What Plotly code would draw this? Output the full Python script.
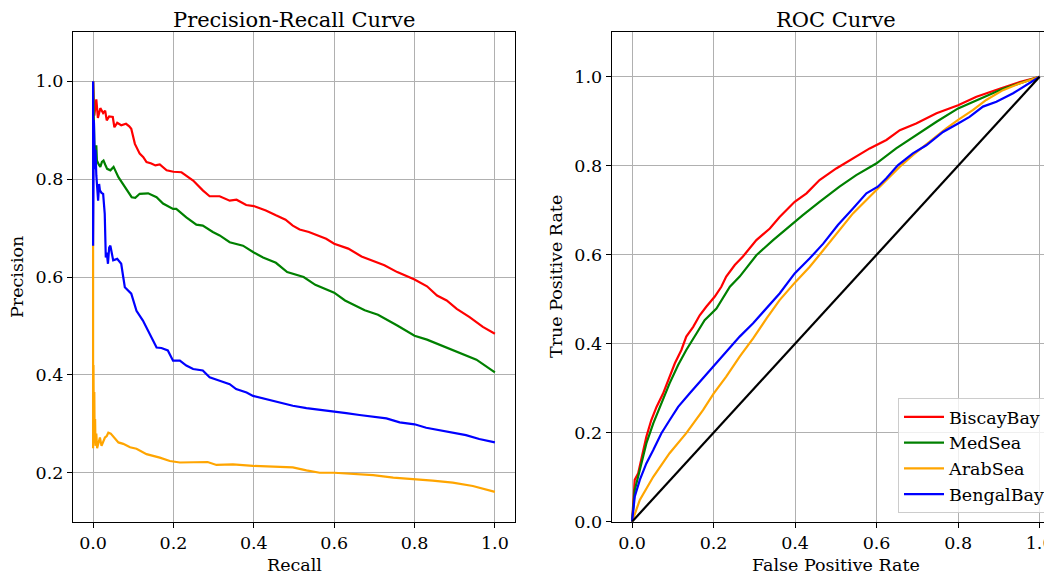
import plotly.graph_objects as go

# ---------------- data ----------------
series_names = ["BiscayBay", "MedSea", "ArabSea", "BengalBay"]
series_colors = ["#ff0000", "#008000", "#ffa500", "#0000ff"]

# Precision-Recall curves
pr_biscay_recall = [0, 0.003, 0.008, 0.012, 0.018, 0.025, 0.03, 0.034, 0.04, 0.049, 0.053, 0.06, 0.07, 0.082, 0.09, 0.095,
                    0.104, 0.116, 0.125, 0.133, 0.145, 0.155, 0.166, 0.183, 0.2, 0.22, 0.235, 0.249, 0.273, 0.29, 0.315,
                    0.34, 0.357, 0.381, 0.4, 0.43, 0.455, 0.479, 0.497, 0.514, 0.537, 0.56, 0.58, 0.6, 0.635, 0.668,
                    0.7, 0.725, 0.757, 0.8, 0.831, 0.856, 0.88, 0.905, 0.937, 0.97, 1.0]
pr_biscay_precision = [1.0, 0.93, 0.963, 0.925, 0.945, 0.935, 0.94, 0.92, 0.928, 0.927, 0.906, 0.915, 0.91, 0.913, 0.908,
                       0.903, 0.872, 0.852, 0.845, 0.835, 0.832, 0.828, 0.83, 0.818, 0.815, 0.814, 0.805, 0.797, 0.777,
                       0.765, 0.765, 0.756, 0.758, 0.747, 0.745, 0.736, 0.726, 0.717, 0.705, 0.697, 0.692, 0.685, 0.678,
                       0.668, 0.658, 0.642, 0.632, 0.624, 0.61, 0.595, 0.581, 0.562, 0.552, 0.535, 0.518, 0.498, 0.484]

pr_med_recall = [0, 0.004, 0.008, 0.0095, 0.014, 0.018, 0.022, 0.026, 0.03, 0.035, 0.043, 0.051, 0.063, 0.079, 0.096,
                 0.105, 0.116, 0.137, 0.158, 0.174, 0.199, 0.207, 0.232, 0.257, 0.273, 0.298, 0.315, 0.34, 0.373, 0.4,
                 0.423, 0.455, 0.483, 0.524, 0.553, 0.6, 0.627, 0.676, 0.709, 0.757, 0.8, 0.831, 0.888, 0.954, 1.0]
pr_med_precision = [1.0, 0.84, 0.869, 0.838, 0.83, 0.825, 0.835, 0.838, 0.83, 0.821, 0.818, 0.825, 0.804, 0.784, 0.763,
                    0.762, 0.77, 0.771, 0.763, 0.75, 0.739, 0.739, 0.722, 0.707, 0.705, 0.692, 0.685, 0.671, 0.664, 0.65,
                    0.64, 0.629, 0.61, 0.6, 0.584, 0.568, 0.552, 0.532, 0.523, 0.501, 0.48, 0.472, 0.453, 0.431, 0.405]

pr_arab_recall = [0, 0, 0.001, 0.002, 0.003, 0.004, 0.005, 0.006, 0.008, 0.01, 0.013, 0.017, 0.021, 0.025, 0.0295,
                  0.034, 0.038, 0.044, 0.05, 0.063, 0.075, 0.092, 0.108, 0.133, 0.166, 0.191, 0.216, 0.265, 0.285,
                  0.307, 0.348, 0.398, 0.448, 0.497, 0.531, 0.564, 0.6, 0.647, 0.697, 0.747, 0.8, 0.845, 0.895,
                  0.945, 1.0]
pr_arab_precision = [1.0, 0.25, 0.42, 0.27, 0.365, 0.26, 0.31, 0.255, 0.28, 0.25, 0.262, 0.272, 0.255, 0.265, 0.272,
                     0.275, 0.282, 0.28, 0.275, 0.262, 0.259, 0.252, 0.249, 0.238, 0.231, 0.224, 0.221, 0.221, 0.222,
                     0.216, 0.217, 0.214, 0.212, 0.211, 0.205, 0.2, 0.2, 0.198, 0.195, 0.19, 0.187, 0.184, 0.18,
                     0.173, 0.161]

pr_bengal_recall = [0, 0, 0.002, 0.004, 0.006, 0.008, 0.0125, 0.015, 0.017, 0.021, 0.025, 0.029, 0.0316, 0.034, 0.037,
                    0.040, 0.043, 0.047, 0.05, 0.06, 0.07, 0.075, 0.079, 0.095, 0.108, 0.124, 0.141, 0.158, 0.17,
                    0.186, 0.199, 0.216, 0.232, 0.249, 0.273, 0.29, 0.315, 0.34, 0.356, 0.382, 0.398, 0.431, 0.465,
                    0.497, 0.531, 0.564, 0.597, 0.63, 0.663, 0.697, 0.73, 0.763, 0.8, 0.829, 0.862, 0.895, 0.928,
                    0.961, 1.0]
pr_bengal_precision = [1.0, 0.664, 0.92, 0.82, 0.86, 0.808, 0.756, 0.79, 0.777, 0.772, 0.77, 0.729, 0.64, 0.65, 0.627,
                       0.66, 0.664, 0.645, 0.634, 0.637, 0.627, 0.6, 0.579, 0.566, 0.531, 0.511, 0.484, 0.456, 0.455,
                       0.45, 0.429, 0.429, 0.419, 0.412, 0.409, 0.395, 0.388, 0.381, 0.371, 0.364, 0.357, 0.35, 0.344,
                       0.337, 0.332, 0.329, 0.325, 0.322, 0.318, 0.314, 0.311, 0.303, 0.299, 0.292, 0.287, 0.282,
                       0.277, 0.269, 0.262]

# ROC curves
roc_biscay_fpr = [0, 0.0065, 0.015, 0.023, 0.035, 0.047, 0.06, 0.076, 0.092, 0.105, 0.121, 0.133, 0.15, 0.166, 0.182,
                  0.203, 0.219, 0.231, 0.252, 0.272, 0.305, 0.338, 0.362, 0.399, 0.428, 0.46, 0.501, 0.542, 0.583,
                  0.624, 0.657, 0.697, 0.747, 0.8, 0.845, 0.902, 0.951, 1.0]
roc_biscay_tpr = [0, 0.094, 0.109, 0.139, 0.191, 0.228, 0.258, 0.288, 0.326, 0.356, 0.386, 0.416, 0.438, 0.464, 0.483,
                  0.506, 0.528, 0.551, 0.577, 0.596, 0.633, 0.659, 0.685, 0.719, 0.738, 0.768, 0.794, 0.816, 0.839,
                  0.858, 0.88, 0.895, 0.918, 0.936, 0.955, 0.973, 0.988, 1.0]

roc_med_fpr = [0, 0.0065, 0.019, 0.035, 0.052, 0.072, 0.092, 0.113, 0.133, 0.158, 0.178, 0.207, 0.223, 0.24, 0.264,
               0.305, 0.346, 0.379, 0.419, 0.46, 0.509, 0.55, 0.599, 0.648, 0.697, 0.747, 0.8, 0.853, 0.91, 1.0]
roc_med_tpr = [0, 0.071, 0.116, 0.176, 0.221, 0.266, 0.311, 0.352, 0.386, 0.423, 0.453, 0.479, 0.502, 0.528, 0.551,
               0.599, 0.633, 0.659, 0.689, 0.719, 0.753, 0.779, 0.805, 0.839, 0.869, 0.899, 0.929, 0.951, 0.973, 1.0]

roc_arab_fpr = [0, 0.019, 0.052, 0.092, 0.133, 0.174, 0.2, 0.231, 0.264, 0.297, 0.33, 0.362, 0.401, 0.436, 0.469,
                0.509, 0.542, 0.575, 0.616, 0.657, 0.689, 0.73, 0.771, 0.8, 0.836, 0.869, 0.91, 0.951, 1.0]
roc_arab_tpr = [0, 0.049, 0.101, 0.154, 0.199, 0.251, 0.288, 0.326, 0.371, 0.412, 0.457, 0.498, 0.539, 0.573, 0.61,
                0.655, 0.693, 0.723, 0.76, 0.798, 0.824, 0.854, 0.884, 0.903, 0.925, 0.948, 0.97, 0.985, 1.0]

roc_bengal_fpr = [0, 0.0065, 0.019, 0.035, 0.052, 0.072, 0.092, 0.113, 0.141, 0.17, 0.203, 0.231, 0.264, 0.297, 0.33,
                  0.362, 0.399, 0.436, 0.469, 0.505, 0.542, 0.575, 0.603, 0.624, 0.652, 0.689, 0.722, 0.763, 0.8,
                  0.828, 0.861, 0.894, 0.935, 0.967, 1.0]
roc_bengal_tpr = [0, 0.056, 0.094, 0.131, 0.161, 0.199, 0.228, 0.258, 0.288, 0.318, 0.352, 0.382, 0.416, 0.446, 0.479,
                  0.513, 0.558, 0.592, 0.625, 0.667, 0.704, 0.738, 0.753, 0.772, 0.801, 0.828, 0.846, 0.876, 0.895,
                  0.91, 0.933, 0.944, 0.963, 0.981, 1.0]

chance_x = [0, 1]
chance_y = [0, 1]

tick_vals_x = [0.0, 0.2, 0.4, 0.6, 0.8, 1.0]
tick_vals_pr_y = [0.2, 0.4, 0.6, 0.8, 1.0]
tick_vals_roc_y = [0.0, 0.2, 0.4, 0.6, 0.8, 1.0]

pr_data = [(pr_biscay_recall, pr_biscay_precision), (pr_med_recall, pr_med_precision),
           (pr_arab_recall, pr_arab_precision), (pr_bengal_recall, pr_bengal_precision)]
roc_data = [(roc_biscay_fpr, roc_biscay_tpr), (roc_med_fpr, roc_med_tpr),
            (roc_arab_fpr, roc_arab_tpr), (roc_bengal_fpr, roc_bengal_tpr)]

# ---------------- figure ----------------
W, H = 1052, 579
OFF = 8  # the page body margin shifts the figure by this many pixels
FONT = "DejaVu Serif"
TICK_SIZE = 17.5
TITLE_SIZE = 21


def px_x(page_x):
    return (page_x - OFF) / W


def px_y(page_y):
    return (H - (page_y - OFF)) / H


fig = go.Figure()

for name, color, (x, y) in zip(series_names, series_colors, pr_data):
    fig.add_trace(go.Scatter(x=x, y=y, mode="lines", line=dict(color=color, width=2.2),
                             xaxis="x", yaxis="y", showlegend=False, hoverinfo="skip"))

for name, color, (x, y) in zip(series_names, series_colors, roc_data):
    fig.add_trace(go.Scatter(x=x, y=y, mode="lines", name=name,
                             line=dict(color=color, width=2.2), xaxis="x2", yaxis="y2"))

fig.add_trace(go.Scatter(x=chance_x, y=chance_y, mode="lines", line=dict(color="black", width=2.2),
                         xaxis="x2", yaxis="y2", showlegend=False))

ydom = [px_y(521.7), px_y(32.3)]
axis_common = dict(showline=True, linecolor="black", linewidth=1.2, ticks="outside", ticklen=5,
                   tickwidth=1.2, tickcolor="black", showgrid=True, gridcolor="#b0b0b0", gridwidth=1.1,
                   zeroline=False, tickformat=".1f", automargin=False,
                   tickfont=dict(family=FONT, size=TICK_SIZE, color="black"))

fig.update_layout(
    width=W, height=H, autosize=False,
    margin=dict(l=0, r=0, t=0, b=0, pad=0),
    paper_bgcolor="white", plot_bgcolor="white",
    font=dict(family=FONT, size=TICK_SIZE, color="black"),
    xaxis=dict(domain=[px_x(73), px_x(515)], range=[-0.05, 1.05], tickvals=tick_vals_x, mirror=True,
               anchor="y", **axis_common),
    yaxis=dict(domain=ydom, range=[0.1, 1.1], tickvals=tick_vals_pr_y, mirror=True,
               anchor="x", **axis_common),
    xaxis2=dict(domain=[px_x(611.7), 1.0], range=[-0.05, 1.05], tickvals=tick_vals_x, mirror=True,
                anchor="y2", **axis_common),
    yaxis2=dict(domain=ydom, range=[0.0, 1.1], tickvals=tick_vals_roc_y, mirror=True,
                anchor="x2", **axis_common),
    legend=dict(x=px_x(1051), xanchor="right", y=px_y(513), yanchor="bottom",
                bgcolor="rgba(255,255,255,0.8)", bordercolor="#cccccc", borderwidth=1,
                font=dict(family=FONT, size=TICK_SIZE, color="black"), itemwidth=40),
    showlegend=True,
)

annotations = [
    dict(text="Precision-Recall Curve", x=px_x(294), y=px_y(19.5), font_size=TITLE_SIZE),
    dict(text="ROC Curve", x=px_x(836), y=px_y(19.5), font_size=TITLE_SIZE),
    dict(text="Recall", x=px_x(294), y=px_y(565), font_size=TICK_SIZE),
    dict(text="False Positive Rate", x=px_x(836), y=px_y(565), font_size=TICK_SIZE),
    dict(text="Precision", x=px_x(17), y=px_y(277), font_size=TICK_SIZE, textangle=-90),
    dict(text="True Positive Rate", x=px_x(556), y=px_y(277), font_size=TICK_SIZE, textangle=-90),
]
for a in annotations:
    fig.add_annotation(xref="paper", yref="paper", showarrow=False, xanchor="center", yanchor="middle",
                       font=dict(family=FONT, size=a.pop("font_size"), color="black"), **a)

fig.write_html("out.html")
